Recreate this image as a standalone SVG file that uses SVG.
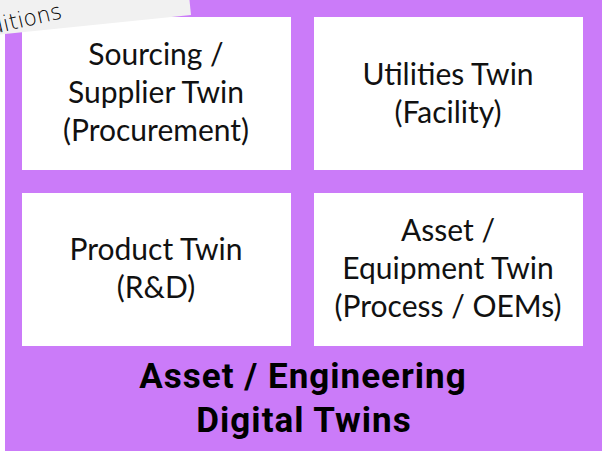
<svg xmlns="http://www.w3.org/2000/svg" width="602" height="454" viewBox="0 0 602 454">
<style>
.box{fill:#ffffff}
.t{font-family:Lato,"Liberation Sans",sans-serif;font-size:30px;fill:#111111;text-anchor:middle}
.title{font-family:Roboto,"Liberation Sans",sans-serif;font-weight:bold;font-size:35px;letter-spacing:1px;fill:#000000;text-anchor:middle}
.tag{font-family:"DejaVu Sans",sans-serif;font-weight:300;font-size:22px;fill:#000000;text-anchor:end}
</style>
<rect x="0" y="0" width="602" height="454" fill="#ffffff"/>
<g id="container">
<rect x="5" y="0" width="597" height="451" fill="#cb7bf9"/>
<text class="title" x="303" y="388">Asset / Engineering</text>
<text class="title" x="304" y="432">Digital Twins</text>
</g>
<g id="sourcing">
<rect class="box" x="22" y="17" width="269" height="153"/>
<text class="t" x="156" y="65">Sourcing /</text>
<text class="t" x="156" y="103">Supplier Twin</text>
<text class="t" x="156" y="141">(Procurement)</text>
</g>
<g id="utilities">
<rect class="box" x="314" y="17" width="269" height="153"/>
<text class="t" x="448" y="85">Utilities Twin</text>
<text class="t" x="448" y="123">(Facility)</text>
</g>
<g id="product">
<rect class="box" x="22" y="193" width="269" height="153"/>
<text class="t" x="156" y="260">Product Twin</text>
<text class="t" x="156" y="298">(R&amp;D)</text>
</g>
<g id="asset">
<rect class="box" x="314" y="193" width="269" height="153"/>
<text class="t" x="448" y="241">Asset /</text>
<text class="t" x="448" y="279">Equipment Twin</text>
<text class="t" x="448" y="317">(Process / OEMs)</text>
</g>
<g id="tag">
<g transform="translate(191,15) rotate(-5.8)">
<rect x="-420" y="-70" width="420" height="70" fill="#f1f1f1"/>
</g>
<text class="tag" transform="translate(63,18) rotate(-13)" x="0" y="0">Conditions</text>
</g>
<g id="connectors"/>
</svg>
